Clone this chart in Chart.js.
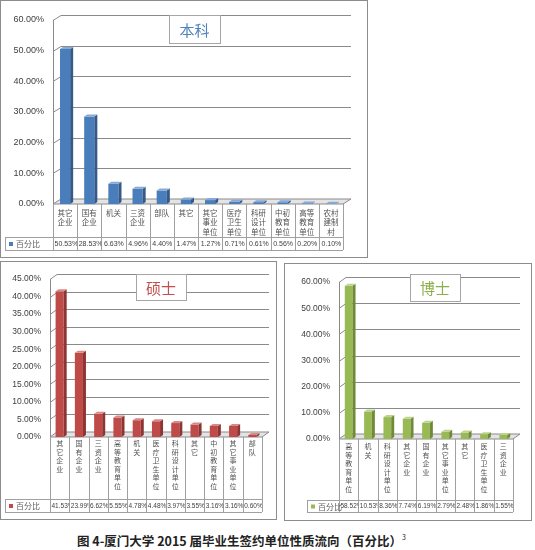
<!DOCTYPE html>
<html>
<head>
<meta charset="utf-8">
<script src="https://cdn.jsdelivr.net/npm/chart.js@4.4.1/dist/chart.umd.min.js"></script>
<style>
  body { margin: 0; background: #fff; width: 535px; height: 550px; position: relative; overflow: hidden; }
  .frame { position: absolute; border: 1px solid #8c8c8c; box-sizing: border-box; background: #fff; }
  .frame canvas { position: absolute; left: 0; top: 0; }
  #caption { position: absolute; left: 77px; top: 531px; font: bold 12.5px "Noto Sans CJK SC", sans-serif; color: #222; white-space: nowrap; }
  #caption sup { font-size: 7px; font-weight: normal; vertical-align: 6px; margin-left: 0; }
</style>
</head>
<body>
<div class="frame" style="left:0;top:0;width:368px;height:258px"><canvas id="bkChart" width="366" height="256"></canvas></div>
<div class="frame" style="left:0;top:261px;width:277px;height:259px"><canvas id="ssChart" width="275" height="257"></canvas></div>
<div class="frame" style="left:284px;top:263px;width:248px;height:258px"><canvas id="bsChart" width="246" height="256"></canvas></div>
<div id="caption">图 4-厦门大学 2015 届毕业生签约单位性质流向（百分比）<sup>3</sup></div>

<script>
// 本科
const bkCategories = ['其它企业', '国有企业', '机关', '三资企业', '部队', '其它', '其它事业单位', '医疗卫生单位', '科研设计单位', '中初教育单位', '高等教育单位', '农村建制村'];
const bkValues = [50.53, 28.53, 6.63, 4.96, 4.40, 1.47, 1.27, 0.71, 0.61, 0.56, 0.20, 0.10];
const bkTicks = [0, 10, 20, 30, 40, 50, 60];

// 硕士
const ssCategories = ['其它企业', '国有企业', '三资企业', '高等教育单位', '机关', '医疗卫生单位', '科研设计单位', '其它', '中初教育单位', '其它事业单位', '部队'];
const ssValues = [41.53, 23.99, 6.62, 5.55, 4.78, 4.48, 3.97, 3.55, 3.16, 3.16, 0.60];
const ssTicks = [0, 5, 10, 15, 20, 25, 30, 35, 40, 45];

// 博士
const bsCategories = ['高等教育单位', '机关', '科研设计单位', '其它企业', '国有企业', '其它事业单位', '其它', '医疗卫生单位', '三资企业'];
const bsValues = [58.52, 10.53, 8.36, 7.74, 6.19, 2.79, 2.48, 1.86, 1.55];
const bsTicks = [0, 10, 20, 30, 40, 50, 60];

const seriesName = '百分比';
const textColor = '#404040';
const numFont = '"Liberation Sans", Arial, sans-serif';
const cjkFont = '"Noto Sans CJK SC", sans-serif';

function splitLabel(str, n) {
  const out = [];
  for (let i = 0; i < str.length; i += n) out.push(str.slice(i, i + n));
  return out;
}

function buildChart(id, o) {
  const n = o.categories.length;

  // 3D zid, pod i mreža
  const wall = {
    id: 'wall',
    beforeDatasetsDraw(chart) {
      const { ctx, chartArea: a, scales: { y } } = chart;
      const dx = o.depth[0], dy = o.depth[1];
      ctx.save();
      ctx.strokeStyle = '#8a8a8a';
      ctx.lineWidth = 1;
      // pod
      ctx.beginPath();
      ctx.moveTo(a.left, a.bottom);
      ctx.lineTo(a.left + dx, a.bottom + dy);
      ctx.lineTo(a.right + dx, a.bottom + dy);
      ctx.lineTo(a.right, a.bottom);
      ctx.closePath();
      ctx.fillStyle = '#e4e4e4';
      ctx.fill();
      ctx.stroke();
      // lijevi zid
      ctx.beginPath();
      ctx.moveTo(a.left + 0.5, a.top);
      ctx.lineTo(a.left + 0.5, a.bottom);
      ctx.stroke();
      o.ticks.forEach(v => {
        if (v === 0) return;
        const py = Math.round(y.getPixelForValue(v)) + 0.5;
        ctx.beginPath();
        ctx.moveTo(a.left, py);
        ctx.lineTo(a.left + dx, py + dy);
        ctx.lineTo(a.right + dx, py + dy);
        ctx.stroke();
      });
      ctx.restore();
    }
  };

  // bočne i gornje plohe stupaca
  const bars3d = {
    id: 'bars3d',
    afterDatasetsDraw(chart) {
      const { ctx } = chart;
      const bdx = o.barDepth[0], bdy = o.barDepth[1];
      ctx.save();
      chart.getDatasetMeta(0).data.forEach(el => {
        const p = el.getProps(['x', 'y', 'base', 'width'], true);
        const l = p.x - p.width / 2, r = p.x + p.width / 2;
        ctx.fillStyle = o.colors.side;
        ctx.beginPath();
        ctx.moveTo(r, p.y);
        ctx.lineTo(r + bdx, p.y + bdy);
        ctx.lineTo(r + bdx, p.base + bdy);
        ctx.lineTo(r, p.base);
        ctx.closePath();
        ctx.fill();
        ctx.fillStyle = o.colors.top;
        ctx.beginPath();
        ctx.moveTo(l, p.y);
        ctx.lineTo(l + bdx, p.y + bdy);
        ctx.lineTo(r + bdx, p.y + bdy);
        ctx.lineTo(r, p.y);
        ctx.closePath();
        ctx.fill();
      });
      ctx.restore();
    }
  };

  // tablica podataka ispod osi
  const table = {
    id: 'table',
    afterDraw(chart) {
      const { ctx, chartArea: a, scales: { x } } = chart;
      const cw = (a.right - a.left) / n;
      const rowTop = a.bottom + o.labelRowH;
      const rowBot = rowTop + o.valueRowH;
      ctx.save();
      ctx.strokeStyle = '#a0a0a0';
      ctx.lineWidth = 1;
      for (let i = 0; i <= n; i++) {
        const px = Math.round(a.left + i * cw) + 0.5;
        ctx.beginPath();
        ctx.moveTo(px, a.bottom);
        ctx.lineTo(px, rowBot);
        ctx.stroke();
      }
      ctx.beginPath();
      ctx.moveTo(o.legendLeft, rowTop + 0.5);
      ctx.lineTo(a.right, rowTop + 0.5);
      ctx.moveTo(o.legendLeft, rowBot + 0.5);
      ctx.lineTo(a.right, rowBot + 0.5);
      ctx.moveTo(o.legendLeft + 0.5, rowTop);
      ctx.lineTo(o.legendLeft + 0.5, rowBot);
      ctx.stroke();
      // legenda
      const my = (rowTop + rowBot) / 2 + 0.5;
      ctx.fillStyle = o.colors.front;
      ctx.fillRect(o.legendLeft + 4, my - 2, 4, 4);
      ctx.fillStyle = '#606060';
      ctx.font = '8px ' + cjkFont;
      ctx.textBaseline = 'middle';
      ctx.textAlign = 'left';
      ctx.fillText(seriesName, o.legendLeft + 11, my);
      // vrijednosti
      ctx.font = o.valueFont + 'px ' + numFont;
      ctx.fillStyle = textColor;
      o.values.forEach((v, i) => {
        const cx = x.getPixelForValue(i);
        const cl = cx - cw / 2;
        const txt = v.toFixed(2) + '%';
        ctx.save();
        ctx.beginPath();
        ctx.rect(cl + 1, rowTop + 1, cw - 1, o.valueRowH - 1);
        ctx.clip();
        if (ctx.measureText(txt).width > cw - 1) {
          ctx.textAlign = 'left';
          ctx.fillText(txt, cl + 1.5, my);
        } else {
          ctx.textAlign = 'center';
          ctx.fillText(txt, cx + 0.5, my);
        }
        ctx.restore();
      });
      ctx.restore();
    }
  };

  // naslov u okviru
  const titleBox = {
    id: 'titleBox',
    afterDraw(chart) {
      const { ctx } = chart;
      const b = o.titleBox;
      ctx.save();
      ctx.fillStyle = '#fff';
      ctx.fillRect(b[0], b[1], b[2], b[3]);
      ctx.strokeStyle = '#a6a6a6';
      ctx.lineWidth = 1;
      ctx.strokeRect(b[0] + 0.5, b[1] + 0.5, b[2], b[3]);
      ctx.fillStyle = o.colors.title;
      ctx.font = '15px ' + cjkFont;
      ctx.textAlign = 'center';
      ctx.textBaseline = 'middle';
      ctx.fillText(o.title, b[0] + b[2] / 2, b[1] + b[3] / 2 + 1);
      ctx.restore();
    }
  };

  return new Chart(document.getElementById(id), {
    type: 'bar',
    data: {
      labels: o.categories,
      datasets: [{
        label: seriesName,
        data: o.values,
        backgroundColor: o.colors.front,
        barPercentage: o.barPct,
        categoryPercentage: 1
      }]
    },
    options: {
      responsive: false,
      animation: false,
      layout: { padding: o.padding },
      plugins: { legend: { display: false }, tooltip: { enabled: false } },
      scales: {
        x: {
          grid: { display: false, drawTicks: false },
          border: { display: false },
          ticks: {
            autoSkip: false, maxRotation: 0, minRotation: 0,
            padding: o.tickPad, color: '#505050',
            font: { family: cjkFont, size: o.labelFont, lineHeight: o.labelLH },
            callback: (v, i) => splitLabel(o.categories[i], o.chunk)
          },
          afterFit: s => { s.height = o.xHeight; }
        },
        y: {
          min: 0, max: o.ticks[o.ticks.length - 1],
          grid: { display: false, drawTicks: false },
          border: { display: false },
          afterBuildTicks: s => { s.ticks = o.ticks.map(v => ({ value: v })); },
          ticks: {
            padding: 9, color: textColor,
            font: { family: numFont, size: o.tickFont },
            callback: v => v.toFixed(2) + '%'
          },
          afterFit: s => { s.width = o.yWidth; }
        }
      }
    },
    plugins: [wall, bars3d, table, titleBox]
  });
}

buildChart('bkChart', {
  categories: bkCategories, values: bkValues, ticks: bkTicks, title: '本科',
  colors: { front: '#4A7EBB', side: '#34598A', top: '#86A9D6', title: '#4F81BD' },
  padding: { left: 0, top: 19, right: 24, bottom: 6 },
  yWidth: 52, xHeight: 47, chunk: 2, labelFont: 7.5, labelLH: 1.3, tickPad: 4, tickFont: 9,
  barPct: 0.42, depth: [8, -5], barDepth: [3, -2],
  labelRowH: 33, valueRowH: 13, legendLeft: 4, valueFont: 7,
  titleBox: [168, 14, 51, 28]
});

buildChart('ssChart', {
  categories: ssCategories, values: ssValues, ticks: ssTicks, title: '硕士',
  colors: { front: '#BE4B48', side: '#8E3533', top: '#D88986', title: '#C0504D' },
  padding: { left: 0, top: 17, right: 14, bottom: 5 },
  yWidth: 49, xHeight: 77, chunk: 1, labelFont: 7, labelLH: 1.23, tickPad: 2, tickFont: 8.5,
  barPct: 0.42, depth: [7, -5], barDepth: [3, -2],
  labelRowH: 62, valueRowH: 13, legendLeft: 4, valueFont: 6.5,
  titleBox: [135, 12, 50, 26]
});

buildChart('bsChart', {
  categories: bsCategories, values: bsValues, ticks: bsTicks, title: '博士',
  colors: { front: '#98B954', side: '#6F8B36', top: '#BCD38E', title: '#8DB04C' },
  padding: { left: 0, top: 18, right: 18, bottom: 6 },
  yWidth: 54, xHeight: 75, chunk: 1, labelFont: 7, labelLH: 1.23, tickPad: 3, tickFont: 8.5,
  barPct: 0.4, depth: [7, -5], barDepth: [3, -2],
  labelRowH: 61, valueRowH: 12, legendLeft: 22, valueFont: 6.5,
  titleBox: [125, 10, 50, 27]
});
</script>
</body>
</html>
